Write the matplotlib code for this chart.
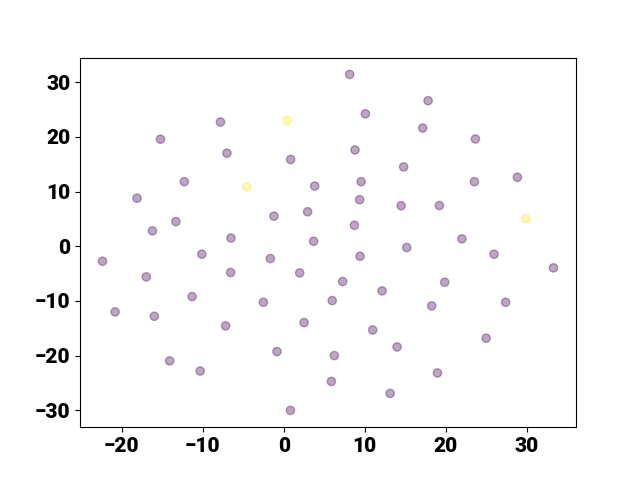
import matplotlib
matplotlib.use("Agg")
import matplotlib.pyplot as plt
import numpy as np

plt.rcParams["font.family"] = ["Roboto", "DejaVu Sans"]
plt.rcParams["font.weight"] = "heavy"
plt.rcParams["font.size"] = 15

# embedding coordinates; label 1 = the few yellow points
xs = [-22.35, -15.2, -18.1, -16.2, -13.3, -12.26, -10.1, -7.8, -7.0, -6.5,
      -4.57, -1.19, -1.64, 0.42, 0.86, 3.83, 2.96, 3.7,
      8.15, 17.83, 10.09, 17.16, 23.67, 8.81, 14.81, 9.56, 23.54, 28.85,
      9.38, 14.5, 19.22, 29.9, 8.73, 15.19, 22.0, 9.43, 25.97, 33.3,
      -16.95, -6.54, 1.98, -11.3, -2.5, -20.8, -15.96, -7.16, 2.52,
      -14.07, -10.3, -0.82, 0.83, 6.0, 5.89,
      7.28, 19.88, 12.15, 18.27, 27.4, 10.99, 14.0, 25.0, 6.26, 18.98, 13.14]
ys = [-2.74, 19.56, 8.78, 2.8, 4.5, 11.8, -1.46, 22.7, 17.0, 1.5,
      10.85, 5.5, -2.25, 23.0, 15.85, 11.0, 6.3, 0.9,
      31.4, 26.6, 24.2, 21.6, 19.6, 17.6, 14.5, 11.8, 11.8, 12.6,
      8.5, 7.4, 7.44, 5.06, 3.84, -0.24, 1.35, -1.83, -1.46, -3.95,
      -5.6, -4.8, -4.87, -9.2, -10.24, -12.0, -12.8, -14.56, -13.95,
      -20.95, -22.8, -19.25, -30.0, -9.93, -24.7,
      -6.45, -6.58, -8.16, -10.9, -10.24, -15.3, -18.4, -16.8, -19.98, -23.15, -26.9]
labels = [0] * len(xs)
for i in (10, 13, 31):
    labels[i] = 1

fig, ax = plt.subplots(figsize=(6.4, 4.8), dpi=100)
ax.scatter(xs, ys, c=labels, cmap="viridis", alpha=0.35)
fig.savefig("out.png")
